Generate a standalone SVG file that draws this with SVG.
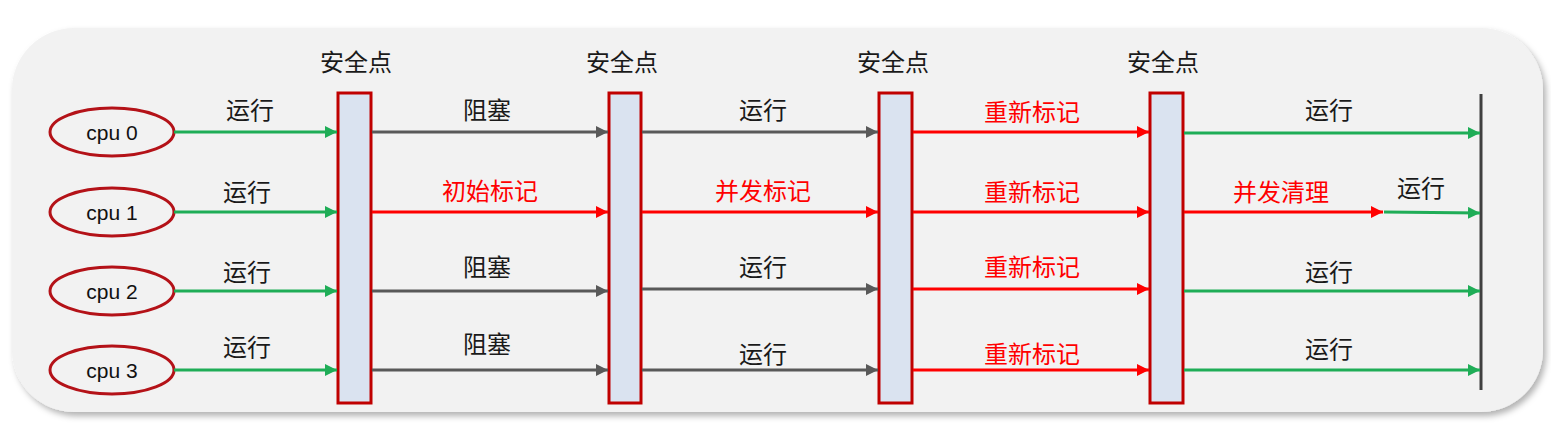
<svg xmlns="http://www.w3.org/2000/svg" width="1551" height="432" viewBox="0 0 1551 432">
<style>
.cjk{font-family:"Microsoft YaHei","Noto Sans CJK SC",sans-serif;font-size:24px;text-anchor:middle;dominant-baseline:central}
.blk{fill:#1a1a1a}
.red{fill:#ff0000}
.cpu{font-family:"Liberation Sans",Arial,sans-serif;font-size:21px;fill:#111;text-anchor:middle;dominant-baseline:central}
.node ellipse{fill:#f2f2f2;stroke:#b41218;stroke-width:3}
.bar{fill:#dae3f0;stroke:#c00000;stroke-width:3}
.g{stroke:#1fad57;stroke-width:3;fill:none}
.k{stroke:#595959;stroke-width:3;fill:none}
.r{stroke:#ff0000;stroke-width:3;fill:none}
</style>
<defs>
<filter id="sh" x="-5%" y="-10%" width="110%" height="125%">
<feDropShadow dx="3" dy="4" stdDeviation="3" flood-color="#000" flood-opacity="0.3"/>
</filter>
<marker id="ag" viewBox="0 0 10 10" refX="10" refY="5" markerWidth="4" markerHeight="4" orient="auto" markerUnits="strokeWidth"><path d="M0,0 L10,5 L0,10 z" fill="#1fad57"/></marker>
<marker id="ak" viewBox="0 0 10 10" refX="10" refY="5" markerWidth="4" markerHeight="4" orient="auto" markerUnits="strokeWidth"><path d="M0,0 L10,5 L0,10 z" fill="#595959"/></marker>
<marker id="ar" viewBox="0 0 10 10" refX="10" refY="5" markerWidth="4" markerHeight="4" orient="auto" markerUnits="strokeWidth"><path d="M0,0 L10,5 L0,10 z" fill="#ff0000"/></marker>
</defs>
<rect width="1551" height="432" fill="#ffffff"/>
<rect x="12" y="28" width="1531" height="384" rx="62" ry="62" fill="#f2f2f2" filter="url(#sh)"/>

<g id="cpu0" class="node"><ellipse cx="112" cy="132" rx="62" ry="24"/><text class="cpu" x="112" y="132">cpu 0</text></g>
<g id="cpu1" class="node"><ellipse cx="112" cy="212" rx="62" ry="24"/><text class="cpu" x="112" y="212">cpu 1</text></g>
<g id="cpu2" class="node"><ellipse cx="112" cy="291" rx="62" ry="24"/><text class="cpu" x="112" y="291">cpu 2</text></g>
<g id="cpu3" class="node"><ellipse cx="112" cy="370" rx="62" ry="24"/><text class="cpu" x="112" y="370">cpu 3</text></g>

<g id="sp1"><text class="cjk blk" x="356" y="60">安全点</text><rect class="bar" x="338" y="93" width="33" height="310"/></g>
<g id="sp2"><text class="cjk blk" x="622" y="60">安全点</text><rect class="bar" x="609" y="93" width="32" height="310"/></g>
<g id="sp3"><text class="cjk blk" x="893" y="60">安全点</text><rect class="bar" x="879" y="93" width="33" height="310"/></g>
<g id="sp4"><text class="cjk blk" x="1163" y="60">安全点</text><rect class="bar" x="1150" y="93" width="33" height="310"/></g>
<g id="end"><line x1="1481" y1="94" x2="1481" y2="390" stroke="#404040" stroke-width="3"/></g>

<g id="connectors">
<line class="g" x1="174" y1="132" x2="337" y2="132" marker-end="url(#ag)"/>
<line class="g" x1="174" y1="212" x2="337" y2="212" marker-end="url(#ag)"/>
<line class="g" x1="174" y1="291" x2="337" y2="291" marker-end="url(#ag)"/>
<line class="g" x1="174" y1="370" x2="337" y2="370" marker-end="url(#ag)"/>

<line class="k" x1="372" y1="132" x2="608" y2="132" marker-end="url(#ak)"/>
<line class="r" x1="372" y1="212" x2="608" y2="212" marker-end="url(#ar)"/>
<line class="k" x1="372" y1="291" x2="608" y2="291" marker-end="url(#ak)"/>
<line class="k" x1="372" y1="370" x2="608" y2="370" marker-end="url(#ak)"/>

<line class="k" x1="642" y1="132" x2="878" y2="132" marker-end="url(#ak)"/>
<line class="r" x1="642" y1="212" x2="878" y2="212" marker-end="url(#ar)"/>
<line class="k" x1="642" y1="289" x2="878" y2="289" marker-end="url(#ak)"/>
<line class="k" x1="642" y1="370" x2="878" y2="370" marker-end="url(#ak)"/>

<line class="r" x1="913" y1="132" x2="1149" y2="132" marker-end="url(#ar)"/>
<line class="r" x1="913" y1="212" x2="1149" y2="212" marker-end="url(#ar)"/>
<line class="r" x1="913" y1="289" x2="1149" y2="289" marker-end="url(#ar)"/>
<line class="r" x1="913" y1="370" x2="1149" y2="370" marker-end="url(#ar)"/>

<line class="g" x1="1184" y1="133" x2="1480" y2="133" marker-end="url(#ag)"/>
<line class="r" x1="1184" y1="212" x2="1383" y2="212" marker-end="url(#ar)"/>
<line class="g" x1="1384" y1="212" x2="1480" y2="213" marker-end="url(#ag)"/>
<line class="g" x1="1184" y1="291" x2="1480" y2="291" marker-end="url(#ag)"/>
<line class="g" x1="1184" y1="370" x2="1480" y2="370" marker-end="url(#ag)"/>

<text class="cjk blk" x="250" y="108">运行</text>
<text class="cjk blk" x="247" y="190">运行</text>
<text class="cjk blk" x="247" y="270">运行</text>
<text class="cjk blk" x="247" y="345">运行</text>

<text class="cjk blk" x="487" y="108">阻塞</text>
<text class="cjk red" x="490" y="189">初始标记</text>
<text class="cjk blk" x="487" y="265">阻塞</text>
<text class="cjk blk" x="487" y="342">阻塞</text>

<text class="cjk blk" x="763" y="108">运行</text>
<text class="cjk red" x="763" y="189">并发标记</text>
<text class="cjk blk" x="763" y="265">运行</text>
<text class="cjk blk" x="763" y="352">运行</text>

<text class="cjk red" x="1032" y="110">重新标记</text>
<text class="cjk red" x="1032" y="190">重新标记</text>
<text class="cjk red" x="1032" y="265">重新标记</text>
<text class="cjk red" x="1032" y="352">重新标记</text>

<text class="cjk blk" x="1329" y="108">运行</text>
<text class="cjk red" x="1281" y="190">并发清理</text>
<text class="cjk blk" x="1421" y="186">运行</text>
<text class="cjk blk" x="1329" y="270">运行</text>
<text class="cjk blk" x="1329" y="347">运行</text>
</g>
</svg>
